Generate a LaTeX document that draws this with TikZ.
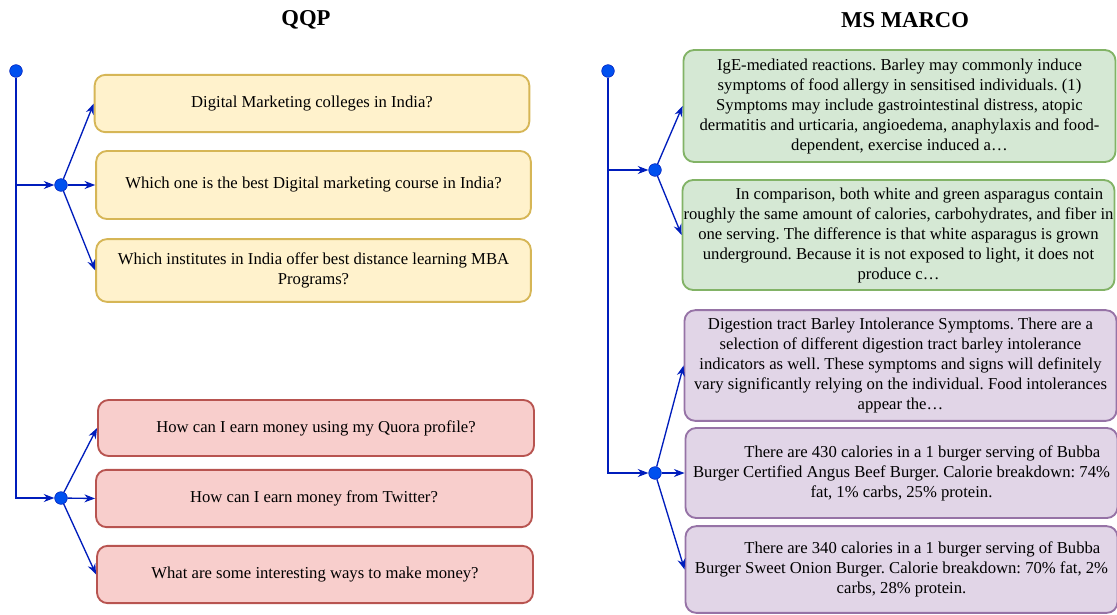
\documentclass[tikz,border=0pt]{standalone}
\usepackage{fontspec}
\setmainfont{Liberation Serif}
\usetikzlibrary{arrows.meta}
\frenchspacing

\definecolor{ylwfill}{HTML}{FFF2CC}
\definecolor{ylwline}{HTML}{D6B656}
\definecolor{redfill}{HTML}{F8CECC}
\definecolor{redline}{HTML}{B85450}
\definecolor{grnfill}{HTML}{D5E8D4}
\definecolor{grnline}{HTML}{82B366}
\definecolor{prpfill}{HTML}{E1D5E7}
\definecolor{prpline}{HTML}{9673A6}
\definecolor{linkblue}{HTML}{001DBC}
\definecolor{dotblue}{HTML}{0050EF}

\begin{document}
\begin{tikzpicture}[x=0.75pt,y=-0.75pt]
\tikzstyle{textbox}=[draw, rounded corners=8pt, line width=1.4pt, align=center, inner xsep=0pt, font=\fontsize{12.5}{15}\selectfont]
\tikzstyle{ylwbox}=[textbox, draw=ylwline, fill=ylwfill, minimum width=326pt]
\tikzstyle{redbox}=[textbox, draw=redline, fill=redfill, minimum width=327pt]
\tikzstyle{grnbox}=[textbox, draw=grnline, fill=grnfill, minimum width=324pt]
\tikzstyle{prpbox}=[textbox, draw=prpline, fill=prpfill, minimum width=324pt]
\tikzstyle{dot}=[circle, draw=linkblue, fill=dotblue, inner sep=0pt, minimum size=9.5pt]
\tikzstyle{link}=[draw=linkblue, line width=1pt, -{Stealth[length=8pt,width=6pt]}]
\tikzstyle{title}=[font=\bfseries\fontsize{17}{20}\selectfont]

\useasboundingbox (0,0) rectangle (1117,614);

% titles
\node[title] (qqp) at (306,20) {QQP};
\node[title] (marco) at (905,20) {MS MARCO};

% QQP
\node[dot] (qroot) at (16,71) {};
\node[dot] (qa) at (61,185) {};
\node[dot] (qb) at (61,498) {};

\node[ylwbox, minimum height=43pt] (y1) at (312,103.5) {Digital Marketing colleges in India?};
\node[ylwbox, minimum height=51pt] (y2) at (313.5,185) {Which one is the best Digital marketing course in India?};
\node[ylwbox, minimum height=47pt] (y3) at (313.5,270.5) {Which institutes in India offer best distance learning MBA\\ Programs?};

\node[redbox, minimum height=42pt] (r1) at (316,428) {How can I earn money using my Quora profile?};
\node[redbox, minimum height=43pt] (r2) at (314,498.5) {How can I earn money from Twitter?};
\node[redbox, minimum height=43pt] (r3) at (315,574.5) {What are some interesting ways to make money?};

\draw[link] (qroot) |- (qa);
\draw[link] (qroot) |- (qb);
\draw[link] (qa) -- (y1.west);
\draw[link] (qa) -- (y2.west);
\draw[link] (qa) -- (y3.west);
\draw[link] (qb) -- (r1.west);
\draw[link] (qb) -- (r2.west);
\draw[link] (qb) -- (r3.west);

% MS MARCO
\node[dot] (mroot) at (608,71) {};
\node[dot] (ma) at (655,170) {};
\node[dot] (mb) at (655,473) {};

\node[grnbox, minimum height=84pt] (g1) at (899.5,106) {IgE-mediated reactions. Barley may commonly induce\\ symptoms of food allergy in sensitised individuals. (1)\\ Symptoms may include gastrointestinal distress, atopic\\ dermatitis and urticaria, angioedema, anaphylaxis and food-\\ dependent, exercise induced a…};
\node[grnbox, minimum height=82.5pt] (g2) at (898.5,235) {\hspace*{2.5em}In comparison, both white and green asparagus contain\\ roughly the same amount of calories, carbohydrates, and fiber in\\ one serving. The difference is that white asparagus is grown\\ underground. Because it is not exposed to light, it does not\\ produce c…};

\node[prpbox, minimum height=83pt] (p1) at (900.5,365.5) {Digestion tract Barley Intolerance Symptoms. There are a\\ selection of different digestion tract barley intolerance\\ indicators as well. These symptoms and signs will definitely\\ vary significantly relying on the individual. Food intolerances\\ appear the…};
\node[prpbox, minimum height=67.5pt] (p2) at (901.5,473) {\hspace*{2.5em}There are 430 calories in a 1 burger serving of Bubba\\ Burger Certified Angus Beef Burger. Calorie breakdown: 74\%\\ fat, 1\% carbs, 25\% protein.};
\node[prpbox, minimum height=65pt] (p3) at (901.5,569.5) {\hspace*{2.5em}There are 340 calories in a 1 burger serving of Bubba\\ Burger Sweet Onion Burger. Calorie breakdown: 70\% fat, 2\%\\ carbs, 28\% protein.};

\draw[link] (mroot) |- (ma);
\draw[link] (mroot) |- (mb);
\draw[link] (ma) -- (g1.west);
\draw[link] (ma) -- (g2.west);
\draw[link] (mb) -- (p1.west);
\draw[link] (mb) -- (p2.west);
\draw[link] (mb) -- (p3.west);
\end{tikzpicture}
\end{document}
